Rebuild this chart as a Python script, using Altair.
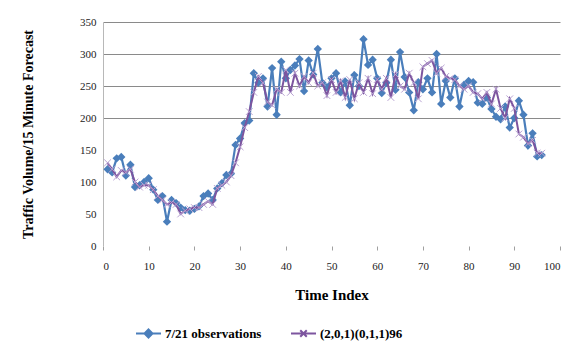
import altair as alt
import pandas as pd

time_index = list(range(1, 97))

observations = [
    120, 115, 137, 139, 110, 127, 92, 95, 100, 106,
    88, 72, 78, 38, 72, 67, 60, 56, 55, 58,
    62, 78, 82, 72, 90, 98, 111, 113, 158, 168,
    192, 196, 270, 255, 262, 218, 278, 205, 288, 262,
    275, 282, 292, 242, 290, 268, 308, 255, 248, 262,
    270, 240, 257, 220, 267, 250, 323, 283, 291, 262,
    239, 255, 291, 244, 303, 264, 240, 212, 256, 245,
    262, 240, 300, 222, 258, 232, 262, 218, 252, 258,
    256, 224, 222, 232, 214, 202, 198, 218, 185, 200,
    227, 205, 157, 176, 140, 142,
]

forecast = [
    130, 120, 108, 118, 115, 120, 100, 92, 95, 95,
    88, 78, 72, 65, 68, 65, 50, 55, 58, 60,
    60, 65, 70, 65, 90, 95, 100, 110, 130, 155,
    185, 210, 240, 265, 255, 225, 220, 245, 240, 275,
    240, 270, 250, 265, 255, 270, 250, 255, 235, 260,
    240, 258, 232, 260, 230, 255, 240, 262, 238, 260,
    245, 262, 232, 268, 250, 245, 270, 255, 230, 280,
    285, 290, 270, 278, 265, 262, 260, 250, 245, 250,
    240, 238, 230, 240, 222, 245, 215, 200, 230, 215,
    175, 170, 160, 165, 145, 145,
]

series_names = ["7/21 observations", "(2,0,1)(0,1,1)96"]
x_ticks = [0, 10, 20, 30, 40, 50, 60, 70, 80, 90, 100]
y_ticks = [0, 50, 100, 150, 200, 250, 300, 350]

BLUE = "#4A7EBB"
PURPLE = "#7D559F"
LAVENDER = "#B8A2D2"
FONT = "Liberation Serif"

obs_df = pd.DataFrame({"t": time_index, "value": observations, "series": series_names[0]})
fc_df = pd.DataFrame({"t": time_index, "value": forecast, "series": series_names[1]})

x_enc = alt.X(
    "t:Q",
    scale=alt.Scale(domain=[0, 100], nice=False),
    axis=alt.Axis(
        values=x_ticks, title="Time Index", grid=False, domain=False,
        tickColor="#a0a0a0", tickSize=4, labelPadding=10, titlePadding=16,
        labelFont=FONT, labelFontSize=11, labelColor="#222", labelOverlap=False,
        titleFont=FONT, titleFontSize=15, titleFontWeight="bold", titleColor="#000",
    ),
)
y_enc = alt.Y(
    "value:Q",
    scale=alt.Scale(domain=[0, 350], nice=False),
    axis=alt.Axis(
        values=y_ticks, title="Traffic Volume/15 Minute Forecast", ticks=False,
        domainColor="#b8b8b8", gridColor="#8a8a8a", gridWidth=1,
        gridOpacity={"condition": {"test": "datum.value >= 200", "value": 1}, "value": 0},
        labelPadding=7, titlePadding=44, labelOverlap=False,
        labelFont=FONT, labelFontSize=11, labelColor="#222",
        titleFont=FONT, titleFontSize=14, titleFontWeight="bold", titleColor="#000",
    ),
)


def legend_for(x_pos, path, fill):
    return alt.Legend(
        orient="none", legendX=x_pos, legendY=298, direction="horizontal", title=None,
        labelFont=FONT, labelFontSize=13, labelFontWeight="bold", labelColor="#000",
        symbolSize=625, symbolStrokeWidth=2, labelOffset=3, padding=0,
        symbolType=path, symbolFillColor=fill, symbolOpacity=1,
    )


obs_color = alt.Color(
    "series:N",
    scale=alt.Scale(domain=[series_names[0]], range=[BLUE]),
    legend=legend_for(32, "M-1,0L1,0M0,-0.32L0.32,0L0,0.32L-0.32,0Z", BLUE),
)
fc_color = alt.Color(
    "series:N",
    scale=alt.Scale(domain=[series_names[1]], range=[PURPLE]),
    legend=legend_for(187, "M-1,0L1,0M-0.26,-0.26L0.26,0.26M-0.26,0.26L0.26,-0.26", PURPLE),
)

obs_line = alt.Chart(obs_df).mark_line(strokeWidth=2.2).encode(x=x_enc, y=y_enc, color=obs_color)
obs_pts = alt.Chart(obs_df).mark_point(shape="diamond", filled=True, size=70, opacity=1, color=BLUE).encode(x=x_enc, y=y_enc)
fc_line = alt.Chart(fc_df).mark_line(strokeWidth=2).encode(x=x_enc, y=y_enc, color=fc_color)
fc_pts = alt.Chart(fc_df).mark_point(
    shape="M-1,-1L1,1M-1,1L1,-1", filled=False, size=45, strokeWidth=1, opacity=1, color=LAVENDER
).encode(x=x_enc, y=y_enc)

chart = (
    alt.layer(obs_line, obs_pts, fc_line, fc_pts)
    .resolve_scale(color="independent")
    .properties(
        width=457, height=224,
        autosize=alt.AutoSizeParams(type="none"),
        padding={"left": 95, "top": 14, "right": 7, "bottom": 97},
        background="white",
    )
    .configure_view(stroke=None)
)

chart.save("out.html", embed_options={"renderer": "svg", "actions": False})
